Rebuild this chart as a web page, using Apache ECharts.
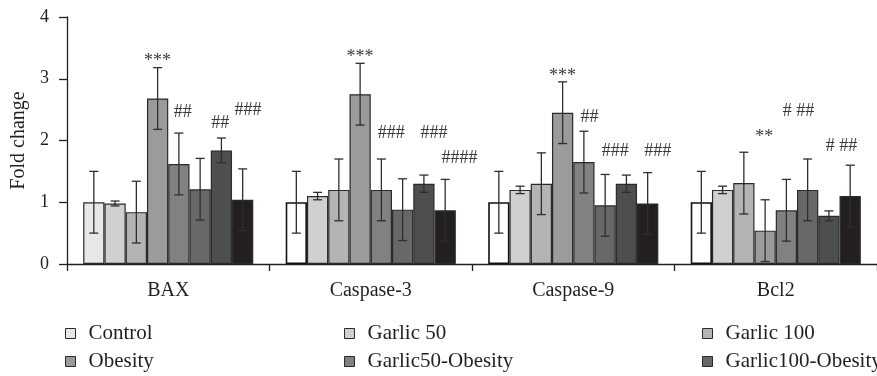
<!DOCTYPE html>
<html>
<head>
<meta charset="utf-8">
<script src="https://cdn.jsdelivr.net/npm/echarts@6/dist/echarts.min.js"></script>
<style>html,body{margin:0;padding:0;background:#fff}#c{width:877px;height:376px}</style>
</head>
<body>
<div id="c"></div>
<script>
const categories = ['BAX', 'Caspase-3', 'Caspase-9', 'Bcl2'];
const seriesNames = ['Control', 'Garlic 50', 'Garlic 100', 'Obesity', 'Garlic50-Obesity', 'Garlic100-Obesity', 'Group 7', 'Group 8'];
const control = [1.00, 1.00, 1.00, 1.00];
const garlic50 = [0.98, 1.10, 1.20, 1.20];
const garlic100 = [0.84, 1.20, 1.30, 1.31];
const obesity = [2.68, 2.75, 2.45, 0.54];
const garlic50Obesity = [1.62, 1.20, 1.65, 0.87];
const garlic100Obesity = [1.21, 0.88, 0.95, 1.20];
const group7 = [1.84, 1.30, 1.30, 0.78];
const group8 = [1.04, 0.87, 0.98, 1.10];
const controlErr = [0.50, 0.50, 0.50, 0.50];
const garlic50Err = [0.04, 0.06, 0.06, 0.06];
const garlic100Err = [0.50, 0.50, 0.50, 0.50];
const obesityErr = [0.50, 0.50, 0.50, 0.50];
const garlic50ObesityErr = [0.50, 0.50, 0.50, 0.50];
const garlic100ObesityErr = [0.50, 0.50, 0.50, 0.50];
const group7Err = [0.20, 0.14, 0.14, 0.08];
const group8Err = [0.50, 0.50, 0.50, 0.50];
const yTicks = [0, 1, 2, 3, 4];
// significance marks: [category index, bar slot, y value, text]
const annotations = [
  [0, 3, 3.35, '***'], [0, 4.18, 2.45, '##'], [0, 5.95, 2.28, '##'], [0, 7.25, 2.49, '###'],
  [1, 3, 3.41, '***'], [1, 4.46, 2.12, '###'], [1, 6.47, 2.12, '###'], [1, 7.67, 1.71, '####'],
  [2, 3, 3.11, '***'], [2, 4.27, 2.38, '##'], [2, 5.47, 1.82, '###'], [2, 7.47, 1.82, '###'],
  [3, 2.96, 2.12, '**'], [3, 4.57, 2.47, '# ##'], [3, 6.59, 1.91, '# ##']
];

const values = [control, garlic50, garlic100, obesity, garlic50Obesity, garlic100Obesity, group7, group8];
const errors = [controlErr, garlic50Err, garlic100Err, obesityErr, garlic50ObesityErr, garlic100ObesityErr, group7Err, group8Err];
const colors = ['#e6e7e6', '#cfd0cf', '#b3b5b4', '#9a9b9a', '#808281', '#676968', '#4d4f4e', '#231f20'];
const N = values.length;
const GAP = 0.16;
const FONT = '"Liberation Serif", "DejaVu Serif", serif';
const INK = '#231f20';

const chart = echarts.init(document.getElementById('c'));

function barWidth(api) {
  return api.size([1, 0])[0] * (1 - GAP) / N;
}

const series = [];
values.forEach((vals, s) => {
  series.push({
    name: seriesNames[s],
    type: 'bar',
    barGap: '0%',
    barCategoryGap: (GAP * 100) + '%',
    itemStyle: { color: colors[s], borderColor: '#2a2a2a', borderWidth: 1.2 },
    data: vals.map((v, c) => (s === 0 && c > 0) ? { value: v, itemStyle: { color: '#ffffff', borderColor: '#111', borderWidth: 1.6 } } : v),
    z: 2
  });
});
values.forEach((vals, s) => {
  series.push({
    type: 'custom',
    name: 'err' + s,
    z: 5,
    silent: true,
    data: vals.map((v, c) => [c, v, errors[s][c]]),
    encode: { x: 0, y: 1 },
    renderItem: function (params, api) {
      const c = api.value(0), v = api.value(1), e = api.value(2);
      const bw = barWidth(api);
      const base = api.coord([c, v]);
      const x = base[0] + (s - (N - 1) / 2) * bw;
      const top = api.coord([c, v + e])[1];
      const bot = api.coord([c, v - e])[1];
      const cap = 4.5;
      const st = { stroke: '#2e2e2e', lineWidth: 1.3 };
      return {
        type: 'group',
        children: [
          { type: 'line', shape: { x1: x, y1: top, x2: x, y2: bot }, style: st },
          { type: 'line', shape: { x1: x - cap, y1: top, x2: x + cap, y2: top }, style: st },
          { type: 'line', shape: { x1: x - cap, y1: bot, x2: x + cap, y2: bot }, style: st }
        ]
      };
    }
  });
});
series.push({
  type: 'custom',
  name: 'marks',
  z: 6,
  silent: true,
  data: annotations.map(a => [a[0], a[2], a[1], a[3]]),
  encode: { x: 0, y: 1 },
  renderItem: function (params, api) {
    const a = annotations[params.dataIndex];
    const bw = barWidth(api);
    const p = api.coord([a[0], a[2]]);
    const x = p[0] + (a[1] - (N - 1) / 2) * bw;
    const star = a[3].indexOf('*') >= 0;
    return {
      type: 'text',
      x: x,
      y: p[1] + (star ? 4 : 0),
      style: {
        text: a[3],
        font: '18px ' + FONT,
        fill: '#3a3a3a',
        align: 'center',
        verticalAlign: 'middle'
      }
    };
  }
});

function legendCol(left, names) {
  return {
    data: names,
    orient: 'vertical',
    left: left,
    top: 323,
    padding: 0,
    itemWidth: 10,
    itemHeight: 10,
    itemGap: 7,
    icon: 'rect',
    itemStyle: { borderColor: '#2a2a2a', borderWidth: 1 },
    textStyle: { fontFamily: FONT, fontSize: 21, color: INK, lineHeight: 21, padding: [0, 0, 0, 8] },
    selectedMode: false
  };
}

chart.setOption({
  animation: false,
  backgroundColor: '#ffffff',
  color: colors,
  grid: { left: 67, right: -6, top: 17, bottom: 112 },
  legend: [
    legendCol(65, ['Control', 'Obesity']),
    legendCol(344, ['Garlic 50', 'Garlic50-Obesity']),
    legendCol(702, ['Garlic 100', 'Garlic100-Obesity'])
  ],
  xAxis: {
    type: 'category',
    data: categories,
    axisLine: { lineStyle: { color: INK, width: 1.3 } },
    axisTick: { show: true, length: 7, lineStyle: { color: INK, width: 1.3 } },
    axisLabel: { fontFamily: FONT, fontSize: 20, color: INK, margin: 17 }
  },
  yAxis: {
    type: 'value',
    min: yTicks[0],
    max: yTicks[yTicks.length - 1],
    interval: 1,
    name: 'Fold change',
    nameLocation: 'middle',
    nameGap: 38,
    nameTextStyle: { fontFamily: FONT, fontSize: 20, color: INK },
    axisLine: { show: true, lineStyle: { color: INK, width: 1.3 } },
    axisTick: { show: true, length: 8, lineStyle: { color: INK, width: 1.3 } },
    axisLabel: { fontFamily: FONT, fontSize: 18, color: INK, margin: 18 },
    splitLine: { show: false }
  },
  series: series
});
</script>
</body>
</html>
